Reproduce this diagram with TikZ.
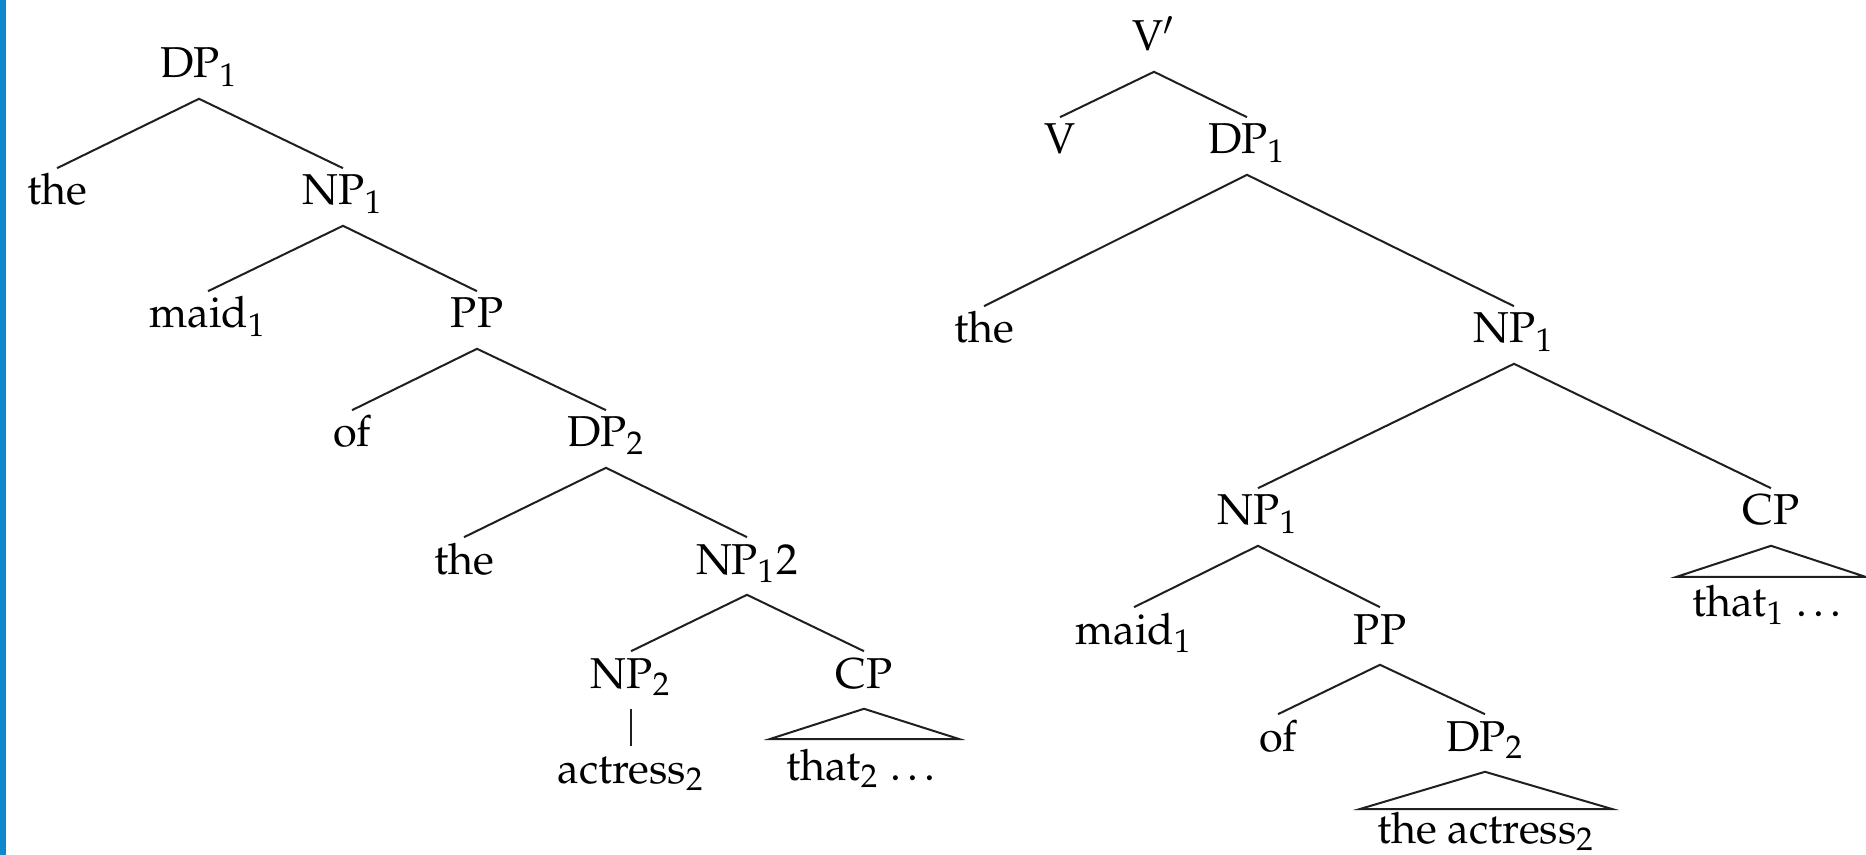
\documentclass[tikz,border=0pt]{standalone}
\usepackage[T1]{fontenc}
\usepackage{mathpazo}
\definecolor{barblue}{RGB}{14,136,204}
\begin{document}
\begin{tikzpicture}[x=0.25pt,y=-0.25pt,
  lab/.style={anchor=base,inner sep=0pt,text height=9pt,text depth=5pt,font=\fontsize{10.8}{13}\selectfont},
  edge/.style={line width=0.5pt,black!88}]
\useasboundingbox (0,0) rectangle (1866,855);
\fill[barblue] (0,0) rectangle (6,855);
% left tree
\node[lab] (l1) at (199,78) {DP$_1$};
\node[lab] (l2) at (57,205) {the};
\node[lab] (l3) at (343,205) {NP$_1$};
\node[lab] (l4) at (208,328) {maid$_1$};
\node[lab] (l5) at (477,328) {PP};
\node[lab] (l6) at (352,447) {of};
\node[lab] (l7) at (606,447) {DP$_2$};
\node[lab] (l8) at (464,574) {the};
\node[lab] (l9) at (747,574) {NP$_1$2};
\node[lab] (l10) at (631,688) {NP$_2$};
\node[lab] (l11) at (864,688) {CP};
\node[lab] (l12) at (631,783) {actress$_2$};
\node[lab] (l13) at (864,780) {that$_2$ \ldots};
\draw[edge] (l2.north) -- (l1.south) -- (l3.north);
\draw[edge] (l4.north) -- (l3.south) -- (l5.north);
\draw[edge] (l6.north) -- (l5.south) -- (l7.north);
\draw[edge] (l8.north) -- (l7.south) -- (l9.north);
\draw[edge] (l10.north) -- (l9.south) -- (l11.north);
\draw[edge] (l10.south) -- (l12.north);
\coordinate (l11a) at (770,739);
\coordinate (l11b) at (959,739);
\draw[edge] (l11.south) -- (l11a) -- (l11b) -- cycle;
% right tree
\node[lab] (r1) at (1154,51) {V$'$};
\node[lab] (r2) at (1060,154) {V};
\node[lab] (r3) at (1247,154) {DP$_1$};
\node[lab] (r4) at (984,343) {the};
\node[lab] (r5) at (1514,343) {NP$_1$};
\node[lab] (r6) at (1258,525) {NP$_1$};
\node[lab] (r7) at (1771,525) {CP};
\node[lab] (r8) at (1134,644) {maid$_1$};
\node[lab] (r9) at (1380,644) {PP};
\node[lab] (r10) at (1278,751) {of};
\node[lab] (r11) at (1485,751) {DP$_2$};
\node[lab] (r12) at (1486,843) {the actress$_2$};
\node[lab] (r13) at (1770,616) {that$_1$ \ldots};
\draw[edge] (r2.north) -- (r1.south) -- (r3.north);
\draw[edge] (r4.north) -- (r3.south) -- (r5.north);
\draw[edge] (r6.north) -- (r5.south) -- (r7.north);
\draw[edge] (r8.north) -- (r6.south) -- (r9.north);
\draw[edge] (r10.north) -- (r9.south) -- (r11.north);
\coordinate (r7a) at (1676,577);
\coordinate (r7b) at (1866,577);
\draw[edge] (r7.south) -- (r7a) -- (r7b) -- cycle;
\coordinate (r11a) at (1360,809);
\coordinate (r11b) at (1612,809);
\draw[edge] (r11.south) -- (r11a) -- (r11b) -- cycle;
\end{tikzpicture}
\end{document}
